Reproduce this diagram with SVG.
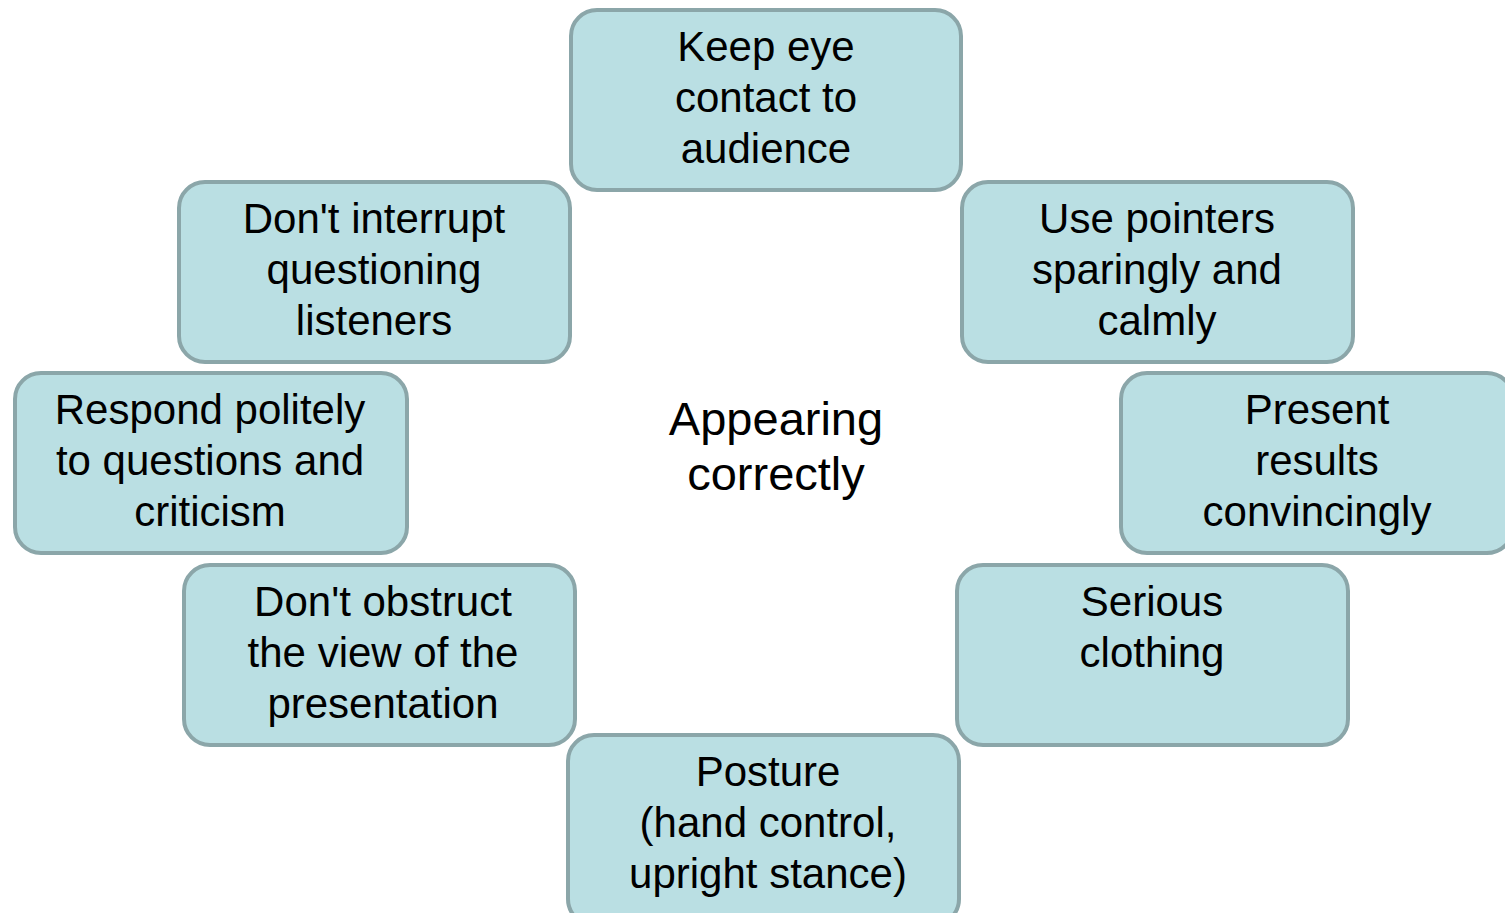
<svg xmlns="http://www.w3.org/2000/svg" width="1505" height="913" viewBox="0 0 1505 913">
<style>
.box{fill:#badfe3;stroke:#8ba6a9;stroke-width:4}
.t{font-family:"Liberation Sans",Arial,sans-serif;font-size:42px;fill:#000;text-anchor:middle}
.c{font-family:"Liberation Sans",Arial,sans-serif;font-size:47px;fill:#000;text-anchor:middle}
</style>
<rect width="1505" height="913" fill="#fff"/>
<g id="connectors"></g>
<g id="center"><text class="c" x="776" y="435">Appearing</text><text class="c" x="776" y="490">correctly</text></g>
<g id="n1"><rect class="box" x="571" y="10" width="390" height="180" rx="26"/><text class="t" x="766" y="61">Keep eye</text><text class="t" x="766" y="112">contact to</text><text class="t" x="766" y="163">audience</text></g>
<g id="n2"><rect class="box" x="962" y="182" width="391" height="180" rx="26"/><text class="t" x="1157" y="233">Use pointers</text><text class="t" x="1157" y="284">sparingly and</text><text class="t" x="1157" y="335">calmly</text></g>
<g id="n3"><rect class="box" x="1121" y="373" width="392" height="180" rx="26"/><text class="t" x="1317" y="424">Present</text><text class="t" x="1317" y="475">results</text><text class="t" x="1317" y="526">convincingly</text></g>
<g id="n4"><rect class="box" x="957" y="565" width="391" height="180" rx="26"/><text class="t" x="1152" y="616">Serious</text><text class="t" x="1152" y="667">clothing</text></g>
<g id="n5"><rect class="box" x="568" y="735" width="391" height="190" rx="26"/><text class="t" x="768" y="786">Posture</text><text class="t" x="768" y="837">(hand control,</text><text class="t" x="768" y="888">upright stance)</text></g>
<g id="n6"><rect class="box" x="184" y="565" width="391" height="180" rx="26"/><text class="t" x="383" y="616">Don't obstruct</text><text class="t" x="383" y="667">the view of the</text><text class="t" x="383" y="718">presentation</text></g>
<g id="n7"><rect class="box" x="15" y="373" width="392" height="180" rx="26"/><text class="t" x="210" y="424">Respond politely</text><text class="t" x="210" y="475">to questions and</text><text class="t" x="210" y="526">criticism</text></g>
<g id="n8"><rect class="box" x="179" y="182" width="391" height="180" rx="26"/><text class="t" x="374" y="233">Don't interrupt</text><text class="t" x="374" y="284">questioning</text><text class="t" x="374" y="335">listeners</text></g>
</svg>
